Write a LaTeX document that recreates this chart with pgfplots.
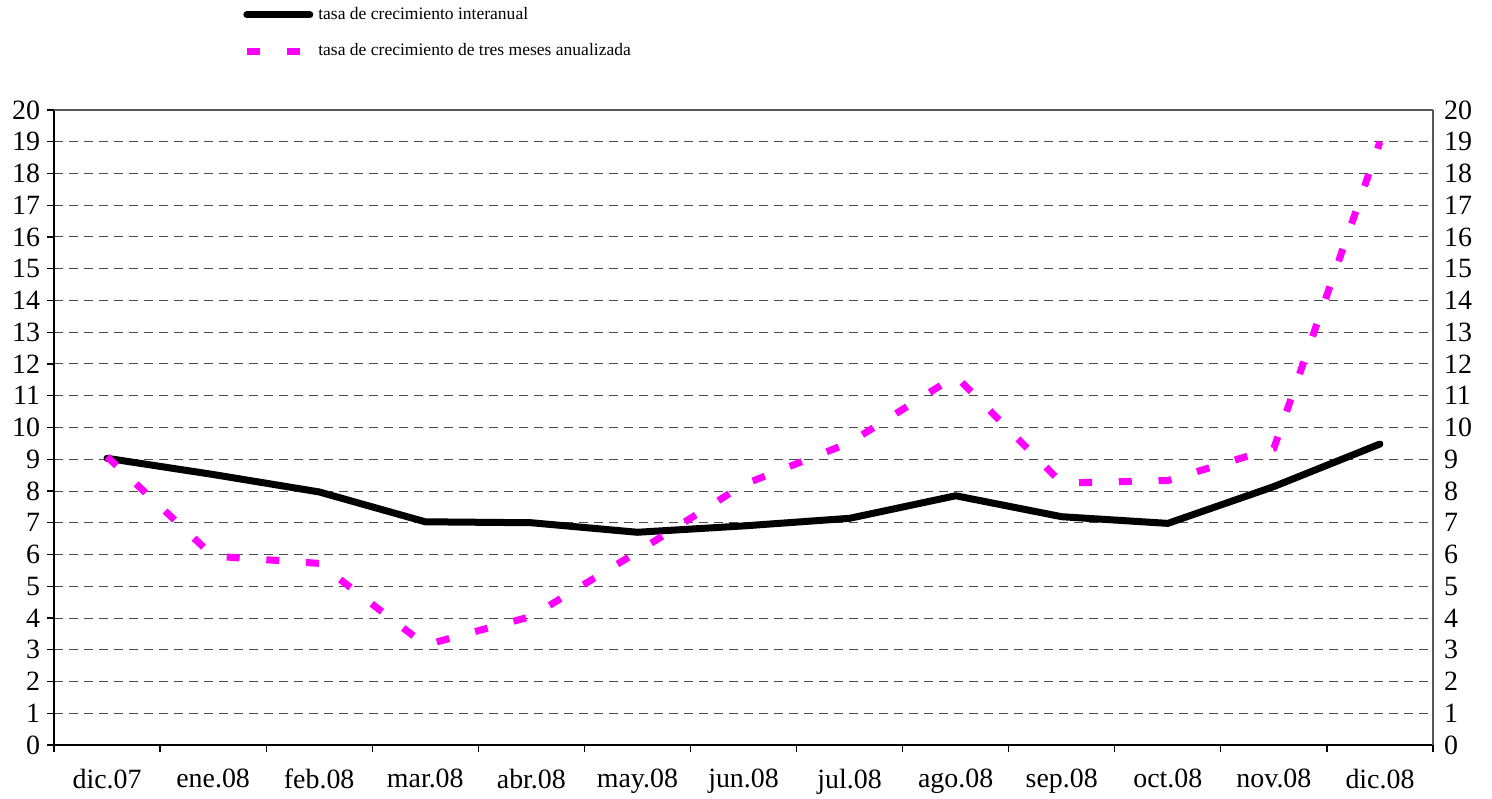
\documentclass[border=0pt]{standalone}
\usepackage{pgfplots}
\usepackage{pgfplotstable}
\pgfplotsset{compat=1.18}
\usepackage{fontspec}
\setmainfont{Liberation Serif}
\definecolor{mag}{RGB}{255,0,255}

\pgfplotstableread{
x a b
0 9.03 9.08
1 8.52 5.95
2 7.97 5.72
3 7.03 3.15
4 7.00 4.05
5 6.70 6.08
6 6.90 8.20
7 7.14 9.52
8 7.85 11.62
9 7.19 8.25
10 6.98 8.33
11 8.14 9.35
12 9.48 19.0
}\datatable

\begin{document}
\begin{tikzpicture}
\pgfplotsset{
  every axis/.append style={
    width=689.5bp, height=317.5bp, scale only axis,
    xmin=-0.5, xmax=12.5, ymin=0, ymax=20,
    tick label style={font=\fontsize{14}{16}\selectfont},
    /pgf/number format/assume math mode=true,
  }
}
\begin{axis}[
  axis x line*=bottom, axis y line*=left,
  axis line style={black, line width=0.8bp, -},
  tick align=outside,
  tick style={black, line width=0.6bp},
  major tick length=3.5bp,
  xtick={-0.5,0.5,...,12.5},
  xticklabels={},
  extra x ticks={0,1,2,3,4,5,6,7,8,9,10,11,12},
  extra x tick labels={dic.07,ene.08,feb.08,mar.08,abr.08,may.08,jun.08,jul.08,ago.08,sep.08,oct.08,nov.08,dic.08},
  extra x tick style={major tick length=0pt, xticklabel style={yshift=-8.5bp}},
  ytick={0,1,...,20},
  ymajorgrids=true,
  major grid style={black!70, line width=0.5bp, dash pattern=on 4.5bp off 3bp},
  legend style={at={(0.137,1.1624)}, anchor=north west, draw=none, fill=none,
    font=\fontsize{8.8}{10}\selectfont, row sep=10.5bp, inner sep=0pt,
    nodes={inner xsep=2.5bp, inner ysep=0pt}},
  legend cell align=left,
  legend image code/.code={\draw[#1] (1.75bp,0bp) -- (33.25bp,0bp);},
]
\coordinate (bl) at (rel axis cs:0,0);
\coordinate (tr) at (rel axis cs:1,1);
\addplot[black, line width=3.5bp, line join=round, line cap=round] table[x=x, y=a] {\datatable};
\addlegendentry{tasa de crecimiento interanual}
\addplot[mag, line width=3.5bp, dash pattern=on 6.5bp off 13.37bp] table[x=x, y=b] {\datatable};
\addlegendentry{tasa de crecimiento de tres meses anualizada}
\end{axis}
\begin{axis}[
  axis x line*=top, axis y line*=right,
  axis line style={black!65, line width=0.8bp, -},
  xtick=\empty,
  ytick={0,1,...,20},
  major tick length=0pt,
  yticklabel style={xshift=2bp},
]
\end{axis}
\pgfresetboundingbox
\path[use as bounding box] ([xshift=-27bp,yshift=-27bp]bl) rectangle ([xshift=29.5bp,yshift=55bp]tr);
\end{tikzpicture}
\end{document}
